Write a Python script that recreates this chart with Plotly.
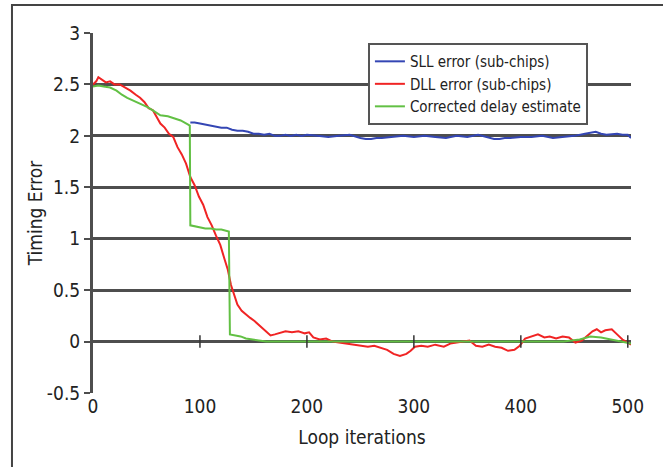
import plotly.graph_objects as go

# ---- data ----
sll_x = [91, 95, 100, 105, 110, 115, 120, 125, 130, 135, 140, 145, 150, 155, 160, 165, 170, 175, 180, 185,
         190, 195, 200, 210, 220, 230, 240, 250, 255, 260, 265, 270, 280, 290, 300, 310, 320, 330, 340,
         350, 360, 370, 375, 380, 385, 390, 400, 410, 420, 430, 440, 450, 460, 465, 470, 475, 480, 490,
         495, 500, 503]
sll_y = [2.13, 2.13, 2.12, 2.11, 2.10, 2.09, 2.08, 2.08, 2.06, 2.05, 2.05, 2.04, 2.02, 2.02, 2.01, 2.02, 2.00,
         2.00, 2.01, 2.00, 2.01, 2.00, 2.01, 2.00, 1.99, 2.00, 2.01, 1.98, 1.97, 1.97, 1.98, 1.98, 1.99,
         2.00, 1.99, 2.00, 1.99, 1.98, 2.00, 1.99, 2.01, 1.98, 1.97, 1.97, 1.98, 1.98, 1.99, 1.99, 2.00,
         1.98, 1.99, 2.00, 2.02, 2.03, 2.04, 2.02, 2.01, 2.02, 2.01, 2.01, 1.98]

dll_x = [0, 3, 5, 8, 12, 16, 20, 25, 30, 35, 40, 44, 48, 52, 56, 60, 63, 67, 71, 75, 79, 83, 87, 91,
         95, 99, 103, 107, 111, 115, 119, 123, 126, 129, 132, 135, 139, 143, 147, 151, 155, 158, 162,
         166, 170, 174, 180, 186, 192, 198, 202, 206, 212, 218, 224, 230, 236, 242, 250, 257, 263, 269,
         275, 281, 287, 293, 297, 301, 307, 313, 320, 328, 334, 340, 346, 352, 358, 364, 370, 376, 382,
         388, 394, 399, 404, 410, 416, 422, 427, 433, 439, 445, 451, 457, 463, 467, 471, 475, 479, 485,
         490, 495, 500, 503]
dll_y = [2.50, 2.53, 2.57, 2.55, 2.52, 2.53, 2.50, 2.50, 2.47, 2.44, 2.40, 2.37, 2.33, 2.27, 2.25, 2.18, 2.12,
         2.08, 2.02, 1.99, 1.89, 1.82, 1.73, 1.60, 1.52, 1.41, 1.33, 1.21, 1.13, 1.03, 0.94, 0.80, 0.70,
         0.55, 0.45, 0.36, 0.30, 0.26, 0.23, 0.20, 0.16, 0.13, 0.09, 0.06, 0.07, 0.08, 0.10, 0.09, 0.10,
         0.08, 0.09, 0.04, 0.02, 0.03, 0.00, -0.01, -0.02, -0.03, -0.04, -0.05, -0.04, -0.06, -0.08,
         -0.12, -0.14, -0.12, -0.09, -0.05, -0.04, -0.05, -0.03, -0.05, -0.02, -0.01, 0.00, 0.01, -0.04,
         -0.05, -0.03, -0.05, -0.06, -0.09, -0.08, -0.04, 0.03, 0.05, 0.07, 0.04, 0.05, 0.03, 0.05, 0.04,
         -0.01, 0.01, 0.06, 0.10, 0.12, 0.09, 0.11, 0.12, 0.07, 0.02, -0.01, -0.03]

cde_x = [0, 5, 10, 16, 22, 27, 32, 38, 44, 51, 57, 63, 70, 76, 82, 89, 90.5, 91, 95, 100, 105, 110,
         115, 120, 125, 127, 128, 133, 138, 143, 148, 155, 162, 170, 200, 250, 300, 350, 400, 440, 455,
         465, 475, 485, 495, 503]
cde_y = [2.48, 2.49, 2.48, 2.47, 2.44, 2.40, 2.37, 2.34, 2.31, 2.28, 2.24, 2.20, 2.19, 2.17, 2.15, 2.11,
         2.10, 1.13, 1.12, 1.11, 1.10, 1.10, 1.09, 1.09, 1.08, 1.07, 0.07, 0.06, 0.05, 0.03, 0.02, 0.01,
         0.00, 0.00, 0.00, 0.00, 0.00, 0.00, 0.00, 0.00, 0.02, 0.05, 0.04, 0.02, 0.00, -0.02]

x_ticks = [0, 100, 200, 300, 400, 500]
y_ticks = [-0.5, 0, 0.5, 1, 1.5, 2, 2.5, 3]

FONT = "DejaVu Sans Condensed, sans-serif"
GRID = "#4e4e4e"

fig = go.Figure()
fig.add_trace(go.Scatter(x=sll_x, y=sll_y, mode="lines", name="SLL error (sub-chips)",
                         line=dict(color="#3446b4", width=2)))
fig.add_trace(go.Scatter(x=dll_x, y=dll_y, mode="lines", name="DLL error (sub-chips)",
                         line=dict(color="#f02424", width=2)))
fig.add_trace(go.Scatter(x=cde_x, y=cde_y, mode="lines", name="Corrected delay estimate",
                         line=dict(color="#62c044", width=2)))
# tick marks on the zero line
fig.add_trace(go.Scatter(x=x_ticks[1:], y=[0] * 5, mode="markers", showlegend=False,
                         hoverinfo="skip",
                         marker=dict(symbol="line-ns", size=9, line=dict(color="#333", width=1.5))))

fig.update_layout(
    width=663, height=467,
    margin=dict(l=93, r=32, t=33, b=74),
    paper_bgcolor="white", plot_bgcolor="white",
    font=dict(family=FONT, color="#222", size=19),
    showlegend=True,
    legend=dict(x=0.511, y=0.972, xanchor="left", yanchor="top",
                bgcolor="white", bordercolor="#555", borderwidth=2,
                font=dict(family=FONT, size=15, color="#222"),
                itemwidth=30, tracegroupgap=0,
                entrywidth=240, entrywidthmode="pixels"),
    xaxis=dict(range=[0, 503], tickvals=x_ticks, ticktext=[str(v) for v in x_ticks],
               showgrid=False, zeroline=False, showline=False, ticks="",
               title=dict(text="Loop iterations", font=dict(size=19), standoff=14),
               tickfont=dict(size=19)),
    yaxis=dict(range=[-0.5, 3], tickvals=y_ticks,
               ticktext=["-0.5", "0", "0.5", "1", "1.5", "2", "2.5", "3"],
               showgrid=True, gridcolor=GRID, gridwidth=3,
               zeroline=False, showline=True, linecolor=GRID, linewidth=3,
               ticks="outside", ticklen=6, tickcolor=GRID, tickwidth=2,
               title=dict(text="Timing Error", font=dict(size=19), standoff=0),
               tickfont=dict(size=19)),
    shapes=[
        # outer frame (left, top, right edges)
        dict(type="path", xref="paper", yref="paper", layer="above",
             path="M -0.1506,-0.22 L -0.1506,1.0778 L 1.0725,1.0778 L 1.0725,-0.22",
             line=dict(color="#444", width=2)),
    ],
)

fig.write_html("out.html")
